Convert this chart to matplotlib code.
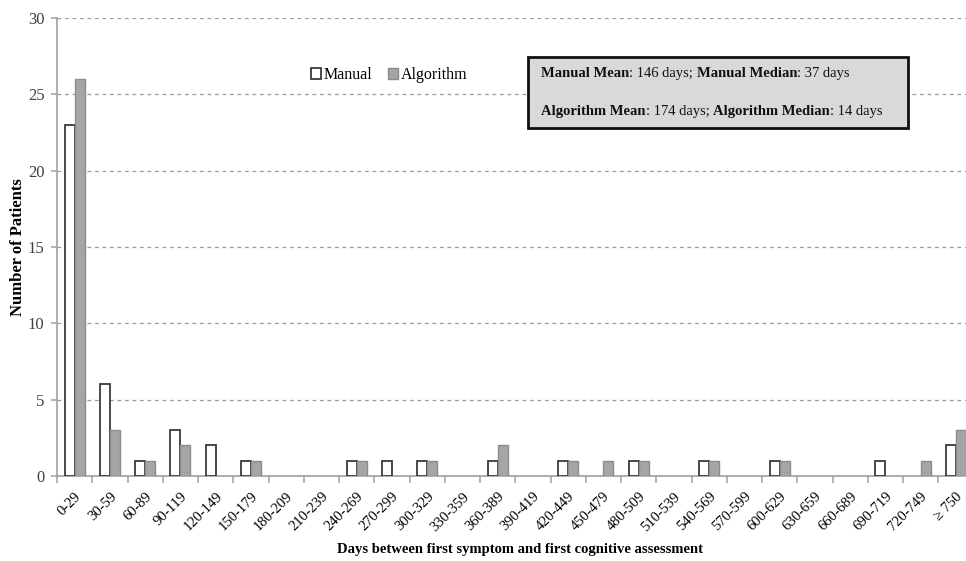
import matplotlib
matplotlib.use("Agg")
import matplotlib.pyplot as plt
import numpy as np
from matplotlib.patches import Rectangle

categories = ["0-29", "30-59", "60-89", "90-119", "120-149", "150-179", "180-209",
              "210-239", "240-269", "270-299", "300-329", "330-359", "360-389",
              "390-419", "420-449", "450-479", "480-509", "510-539", "540-569",
              "570-599", "600-629", "630-659", "660-689", "690-719", "720-749",
              "\u2265 750"]
manual = [23, 6, 1, 3, 2, 1, 0, 0, 1, 1, 1, 0, 1, 0, 1, 0, 1, 0, 1, 0, 1, 0, 0, 1, 0, 2]
algorithm = [26, 3, 1, 2, 0, 1, 0, 0, 1, 0, 1, 0, 2, 0, 1, 1, 1, 0, 1, 0, 1, 0, 0, 0, 1, 3]
y_ticks = [0, 5, 10, 15, 20, 25, 30]

plt.rcParams["font.family"] = ["Liberation Serif", "DejaVu Serif"]

W, H = 966, 561
fig = plt.figure(figsize=(W / 100, H / 100), dpi=100)
left, right, top, bottom = 57, 973.5, 18, 476
ax = fig.add_axes([left / W, 1 - bottom / H, (right - left) / W, (bottom - top) / H])

x = np.arange(len(categories))
bw = 0.285
b1 = ax.bar(x - bw / 2, manual, width=bw, color="white", edgecolor="#3a3a3a",
            linewidth=1.3, label="Manual", zorder=3)
b2 = ax.bar(x + bw / 2, algorithm, width=bw, color="#a5a5a5", edgecolor="#8c8c8c",
            linewidth=1.0, label="Algorithm", zorder=3)
# empty bins draw nothing
for container in (b1, b2):
    for p in container.patches:
        if p.get_height() == 0:
            p.set_visible(False)

ax.set_xlim(-0.5, len(categories) - 0.5)
ax.set_ylim(0, 30)
ax.set_yticks(y_ticks)
ax.yaxis.grid(True, linestyle=(0, (3, 3)), color="#9a9a9a", linewidth=0.9)
ax.set_axisbelow(True)

for s in ["top", "right"]:
    ax.spines[s].set_visible(False)
for s in ["left", "bottom"]:
    ax.spines[s].set_color("#a0a0a0")
    ax.spines[s].set_linewidth(1.2)

ax.set_xticks(x)
ax.set_xticklabels(categories, rotation=45, ha="right", va="top",
                   rotation_mode="anchor", fontsize=10.5)
ax.set_xticks(np.arange(len(categories) + 1) - 0.5, minor=True)
ax.tick_params(axis="x", which="major", length=0, pad=10)
ax.tick_params(axis="x", which="minor", length=5, color="#a0a0a0", width=1.1)
ax.tick_params(axis="y", length=4, color="#a0a0a0", width=1.1, labelsize=12,
               labelcolor="#404040", pad=5)

ax.set_ylabel("Number of Patients", fontsize=12, fontweight="bold", va="center")
ax.yaxis.set_label_coords((18 - left) / (right - left), 0.5)
ax.set_xlabel("Days between first symptom and first cognitive assessment",
              fontsize=10.5, fontweight="bold")
ax.xaxis.set_label_coords((520 - left) / (right - left), -(549 - bottom) / (bottom - top))
ax.xaxis.label.set_va("center")

ax.legend(loc="center", bbox_to_anchor=(389 / W, 1 - 75 / H),
          bbox_transform=fig.transFigure, ncol=2, frameon=False,
          handlelength=0.65, handleheight=0.65, handletextpad=0.15,
          columnspacing=1.0, fontsize=11.5)

# summary statistics box
bx0, by0, bx1, by1 = 528, 57, 908, 128
fig.patches.append(Rectangle((bx0 / W, 1 - by1 / H), (bx1 - bx0) / W, (by1 - by0) / H,
                             transform=fig.transFigure, facecolor="#d9d9d9",
                             edgecolor="#111111", linewidth=2.0, zorder=5))

summary_lines = [
    [("Manual Mean", "bold"), (": 146 days; ", "normal"),
     ("Manual Median", "bold"), (": 37 days", "normal")],
    [("Algorithm Mean", "bold"), (": 174 days; ", "normal"),
     ("Algorithm Median", "bold"), (": 14 days", "normal")],
]
fig.canvas.draw()
renderer = fig.canvas.get_renderer()
for yline, parts in zip([74, 111], summary_lines):
    xpos = 541
    for txt, wt in parts:
        t = fig.text(xpos / W, 1 - yline / H, txt, fontsize=10.5, fontweight=wt,
                     ha="left", va="center", zorder=6, color="#111111")
        xpos += t.get_window_extent(renderer).width

fig.savefig("out.png", dpi=100)
